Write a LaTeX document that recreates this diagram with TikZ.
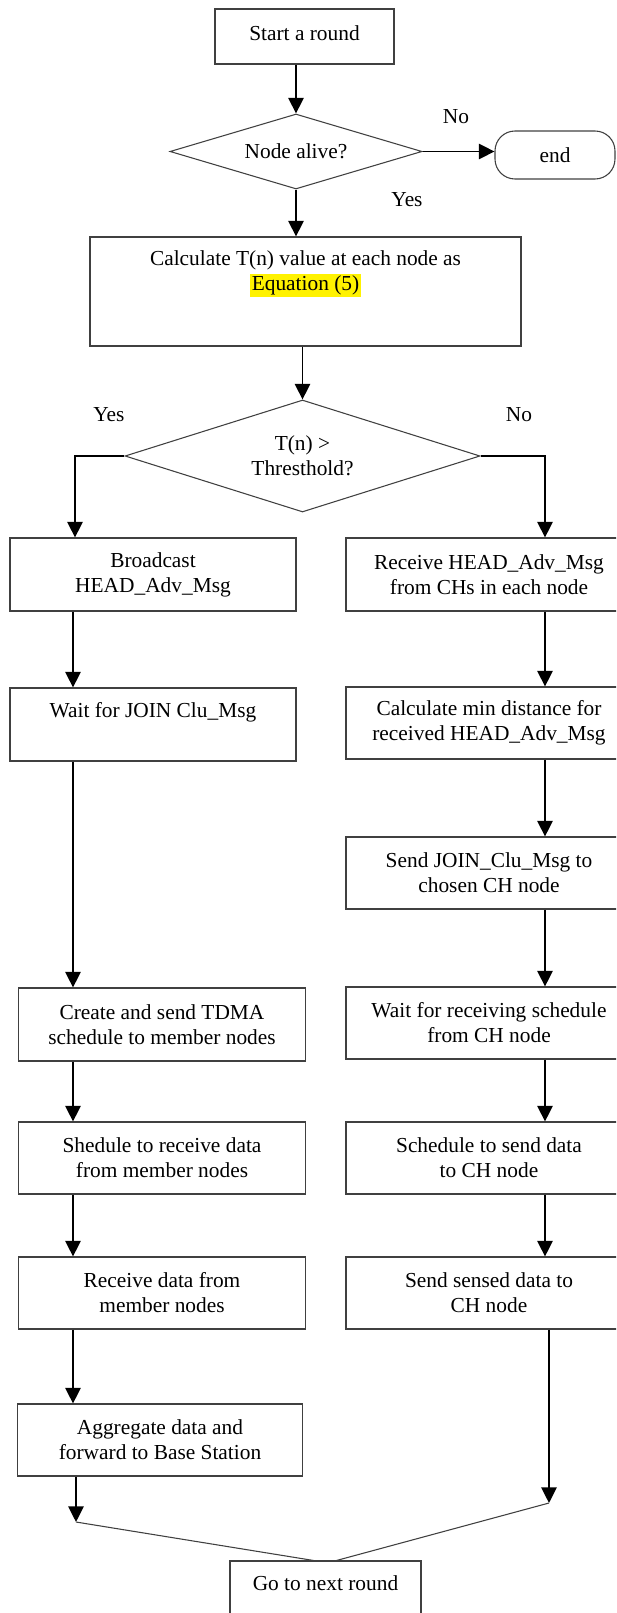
\documentclass[tikz,border=0pt]{standalone}
\usepackage{fontspec}
\setmainfont{Liberation Serif}
\usetikzlibrary{arrows.meta,shapes.geometric}
\newcommand\pxu{0.5615pt}
\setlength{\fboxsep}{1pt}
\begin{document}
\begin{tikzpicture}[x=0.5615pt, y=-0.5615pt,
  box/.style={draw=black!75, line width=0.6pt, rectangle, inner sep=0pt, align=center, font=\fontsize{12}{14}\selectfont},
  txt/.style={inner sep=0pt, align=center, font=\fontsize{12}{14}\selectfont},
  dec/.style={draw=black!75, line width=0.6pt, shape=diamond, inner sep=0pt, align=center, font=\fontsize{12}{14}\selectfont},
  arr/.style={line width=1.1pt, -{Triangle[length=8.8pt,width=8.6pt]}},
  thinline/.style={line width=0.6pt, draw=black!75},
  lbl/.style={inner sep=0pt, font=\fontsize{12}{14}\selectfont}]
\useasboundingbox (0,0) rectangle (616,1613);
\clip (0,0) rectangle (616,1613);

% top part
\node[box, minimum width=179*\pxu, minimum height=55*\pxu] (start) at (304.5,36.5) {};
\node[txt] (startt) at (304.5,33) {Start a round};
\node[dec, aspect=3.36, minimum width=252*\pxu, minimum height=75*\pxu] (d1) at (296,151.5) {Node alive?};
\node[box, rounded corners=20*\pxu, minimum width=120*\pxu, minimum height=48*\pxu] (endn) at (555,155) {end};
\node[lbl] (no1) at (456,117) {No};
\node[lbl] (yes1) at (407,200) {Yes};
\node[box, minimum width=431*\pxu, minimum height=109*\pxu] (calc) at (305.5,291.5) {};
\node[txt] (calct) at (305.5,273.5) {Calculate T(n) value at each node as\\\colorbox{yellow}{Equation (5)}};
\node[dec, aspect=3.17, minimum width=355*\pxu, minimum height=112*\pxu] (d2) at (302.5,456) {T(n) >\\Thresthold?};
\node[lbl] (yes2) at (109,415) {Yes};
\node[lbl] (no2) at (519,415) {No};

% left column
\node[box, minimum width=286*\pxu, minimum height=73*\pxu] (bcast) at (153,574.5) {Broadcast\\HEAD\_Adv\_Msg};
\node[box, minimum width=286*\pxu, minimum height=73*\pxu] (waitj) at (153,724.5) {};
\node[txt] (waitjt) at (153,712) {Wait for JOIN Clu\_Msg};
\node[box, minimum width=286.5*\pxu, minimum height=73*\pxu] (tdma) at (162,1024.5) {Create and send TDMA\\schedule to member nodes};
\node[box, minimum width=286.5*\pxu, minimum height=72*\pxu] (shed) at (162,1158) {Shedule to receive data\\from member nodes};
\node[box, minimum width=286.5*\pxu, minimum height=72*\pxu] (recv) at (162,1293) {Receive data from\\member nodes};
\node[box, minimum width=285*\pxu, minimum height=72*\pxu] (agg) at (160,1440) {Aggregate data and\\forward to Base Station};

% right column
\node[box, minimum width=286*\pxu, minimum height=73*\pxu] (rhead) at (489,574.5) {Receive HEAD\_Adv\_Msg\\from CHs in each node};
\node[box, minimum width=286*\pxu, minimum height=72*\pxu] (cmin) at (489,723) {Calculate min distance for\\received HEAD\_Adv\_Msg};
\node[box, minimum width=286*\pxu, minimum height=72*\pxu] (sjoin) at (489,873) {Send JOIN\_Clu\_Msg to\\chosen CH node};
\node[box, minimum width=286*\pxu, minimum height=72*\pxu] (wrecv) at (489,1023) {Wait for receiving schedule\\from CH node};
\node[box, minimum width=286*\pxu, minimum height=72*\pxu] (ssend) at (489,1158) {Schedule to send data\\to CH node};
\node[box, minimum width=286*\pxu, minimum height=72*\pxu] (sdata) at (489,1293) {Send sensed data to\\CH node};

% bottom
\node[box, minimum width=191*\pxu, minimum height=55*\pxu] (go) at (325.5,1588.5) {};
\node[txt] (got) at (325.5,1583) {Go to next round};

% connectors
\draw[arr] (d1.north |- start.south) -- (d1.north);
\draw[arr] (d1.east) -- (d1.east -| endn.west);
\draw[arr] (d1.south) -- (d1.south |- calc.north);
\draw[arr] (d2.north |- calc.south) -- (d2.north);
\coordinate (lt) at (75,456);
\coordinate (rt) at (545,456);
\draw[arr] (d2.west) -- (d2.west -| lt) -- (lt |- bcast.north);
\draw[arr] (d2.east) -- (d2.east -| rt) -- (rt |- rhead.north);

\coordinate (lc) at (73,0);
\draw[arr] (lc |- bcast.south) -- (lc |- waitj.north);
\draw[arr] (lc |- waitj.south) -- (lc |- tdma.north);
\draw[arr] (lc |- tdma.south) -- (lc |- shed.north);
\draw[arr] (lc |- shed.south) -- (lc |- recv.north);
\draw[arr] (lc |- recv.south) -- (lc |- agg.north);

\coordinate (rc) at (545,0);
\draw[arr] (rc |- rhead.south) -- (rc |- cmin.north);
\draw[arr] (rc |- cmin.south) -- (rc |- sjoin.north);
\draw[arr] (rc |- sjoin.south) -- (rc |- wrecv.north);
\draw[arr] (rc |- wrecv.south) -- (rc |- ssend.north);
\draw[arr] (rc |- ssend.south) -- (rc |- sdata.north);

\coordinate (lend) at (76,1522);
\coordinate (rend) at (549,1503);
\draw[arr] (lend |- agg.south) -- (lend);
\draw[arr] (rend |- sdata.south) -- (rend);
\draw[thinline] (lend) -- ([xshift=-12*\pxu]go.north);
\draw[thinline] (rend) -- ([xshift=11*\pxu]go.north);
\end{tikzpicture}
\end{document}
